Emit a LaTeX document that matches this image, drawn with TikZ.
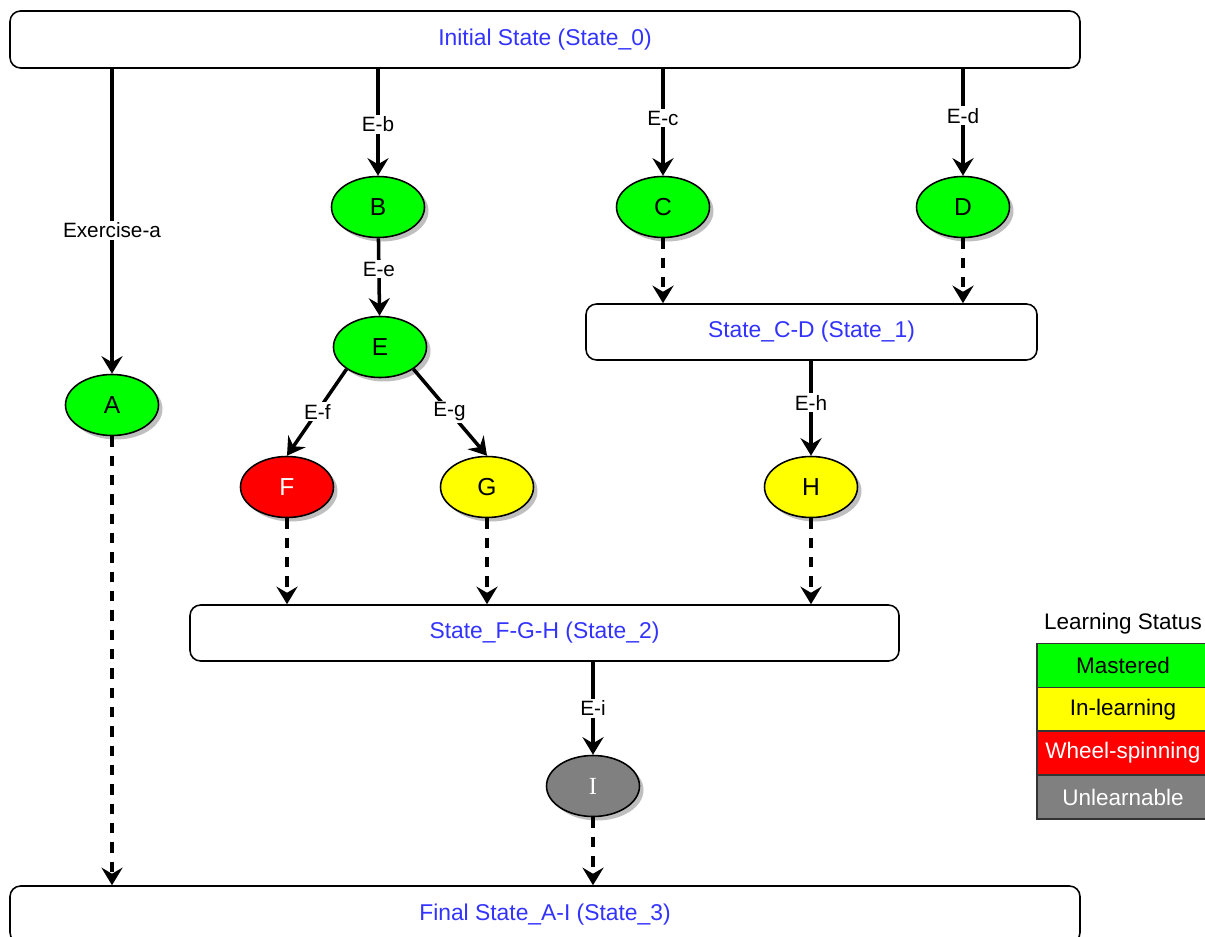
\documentclass[tikz,border=0pt]{standalone}
\usepackage{fontspec}
\setmainfont{Liberation Sans}
\newfontfamily\romanfont{Liberation Serif}
\usetikzlibrary{arrows.meta,shadows,shapes.geometric}

\definecolor{stategreen}{RGB}{0,255,0}
\definecolor{stateyellow}{RGB}{255,255,0}
\definecolor{statered}{RGB}{255,0,0}
\definecolor{stategray}{RGB}{128,128,128}
\definecolor{stateblue}{RGB}{51,51,255}

\tikzset{
  statebox/.style={draw,rounded corners=6pt,line width=0.9pt,fill=white,
    minimum height=1.14cm,text=stateblue,font=\fontsize{13}{15}\selectfont},
  exnode/.style={ellipse,draw,line width=0.9pt,minimum width=1.86cm,minimum height=1.22cm,
    font=\fontsize{14}{16}\selectfont,
    drop shadow={shadow xshift=0.08cm,shadow yshift=-0.08cm,fill=black!25,opacity=1}},
  solidarrow/.style={line width=2pt,-{Stealth[length=10pt,width=12pt,inset=3.5pt]}},
  dasharrow/.style={solidarrow,dash pattern=on 6pt off 5pt},
  lbl/.style={fill=white,inner sep=1pt,font=\fontsize{11.8}{13}\selectfont},
  legendbox/.style={draw=black!80,line width=0.8pt,minimum width=3.44cm,minimum height=0.88cm,
    font=\fontsize{12.8}{14}\selectfont}
}

\begin{document}
\begin{tikzpicture}

      \clip (0,0) rectangle (24.1,-18.74);
      \useasboundingbox (0,0) rectangle (24.1,-18.74);

      % states
      \node[statebox,minimum width=21.4cm] (init)  at (10.9,-0.79)  {Initial State (State\_0)};
      \node[statebox,minimum width=9.02cm,minimum height=1.12cm] (s1) at (16.23,-6.64) {State\_C-D (State\_1)};
      \node[statebox,minimum width=14.18cm,minimum height=1.12cm] (s2) at (10.89,-12.66) {State\_F-G-H (State\_2)};
      \node[statebox,minimum width=21.4cm] (final) at (10.9,-18.29) {Final State\_A-I (State\_3)};

      % exercises
      \begin{scope}[every node/.style={exnode}]
        \node[fill=stategreen]  (A) at (2.24,-8.1)   {A};
        \node[fill=stategreen]  (B) at (7.56,-4.14)  {B};
        \node[fill=stategreen]  (C) at (13.26,-4.14) {C};
        \node[fill=stategreen]  (D) at (19.26,-4.14) {D};
        \node[fill=stategreen]  (E) at (7.6,-6.94)   {E};
        \node[fill=statered,text=white] (F) at (5.74,-9.74) {F};
        \node[fill=stateyellow] (G) at (9.74,-9.74)  {G};
        \node[fill=stateyellow] (H) at (16.22,-9.74) {H};
        \node[fill=stategray,text=white] (I) at (11.86,-15.72) {\romanfont I};
      \end{scope}

      % exercise edges
      \draw[solidarrow] (init.south -| A) -- node[lbl,pos=0.53] {Exercise-a} (A);
      \draw[solidarrow] (init.south -| B) -- node[lbl,pos=0.52] {E-b} (B);
      \draw[solidarrow] (init.south -| C) -- node[lbl,pos=0.46] {E-c} (C);
      \draw[solidarrow] (init.south -| D) -- node[lbl,pos=0.44] {E-d} (D);
      \draw[solidarrow] (B) -- node[lbl,pos=0.4] {E-e} (E);
      \draw[solidarrow] (E.south west) -- node[lbl,pos=0.49] {E-f} (F.north);
      \draw[solidarrow] (E.south east) -- node[lbl,pos=0.49] {E-g} (G.north);
      \draw[solidarrow] (s1.south -| H) -- node[lbl,pos=0.44] {E-h} (H);
      \draw[solidarrow] (s2.south -| I) -- node[lbl,pos=0.5] {E-i} (I);

      % transitions
      \draw[dasharrow] (C) -- (C |- s1.north);
      \draw[dasharrow] (D) -- (D |- s1.north);
      \draw[dasharrow] (F) -- (F |- s2.north);
      \draw[dasharrow] (G) -- (G |- s2.north);
      \draw[dasharrow] (H) -- (H |- s2.north);
      \draw[dasharrow] (A) -- (A |- final.north);
      \draw[dasharrow] (I) -- (I |- final.north);

      % legend
      \node[font=\fontsize{12.8}{14}\selectfont] (legtitle) at (22.46,-12.48) {Learning Status};
      \node[legendbox,fill=stategreen]  (leg1) at (22.46,-13.31) {Mastered};
      \node[legendbox,fill=stateyellow] (leg2) at (22.46,-14.19) {In-learning};
      \node[legendbox,fill=statered,text=white]  (leg3) at (22.46,-15.06) {Wheel-spinning};
      \node[legendbox,fill=stategray,text=white] (leg4) at (22.46,-15.94) {Unlearnable};

    \end{tikzpicture}
\end{document}
